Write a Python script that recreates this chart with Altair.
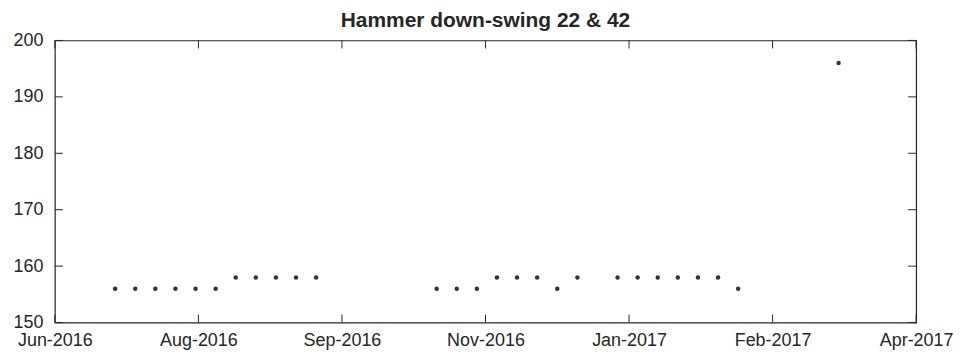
import altair as alt
import pandas as pd

# ---- data ----
dates = [
    "2016-07-10", "2016-07-17", "2016-07-24", "2016-07-31", "2016-08-07", "2016-08-14",
    "2016-08-21", "2016-08-28", "2016-09-04", "2016-09-11", "2016-09-18",
    "2016-10-30", "2016-11-06", "2016-11-13",
    "2016-11-20", "2016-11-27", "2016-12-04",
    "2016-12-11", "2016-12-18",
    "2017-01-01", "2017-01-08", "2017-01-15", "2017-01-22", "2017-01-29", "2017-02-05",
    "2017-02-12",
    "2017-03-19",
]
values = [
    156, 156, 156, 156, 156, 156,
    158, 158, 158, 158, 158,
    156, 156, 156,
    158, 158, 158,
    156, 158,
    158, 158, 158, 158, 158, 158,
    156,
    196,
]
# x ticks (MATLAB datenum multiples of 50 days)
x_ticks = ["2016-06-19", "2016-08-08", "2016-09-27", "2016-11-16",
           "2017-01-05", "2017-02-24", "2017-04-15"]
y_ticks = [150, 160, 170, 180, 190, 200]
title_text = "Hammer down-swing 22 & 42"

FONT = "Liberation Sans"
INK = "#262626"
W, H = 864, 283
TL = 8


def dt(s):
    y, m, d = (int(p) for p in s.split("-"))
    return alt.DateTime(year=y, month=m, date=d, utc=True)


points = pd.DataFrame({"date": dates, "value": values})
xt = pd.DataFrame({"date": x_ticks})
yt = pd.DataFrame({"value": y_ticks})

x_scale = alt.Scale(type="utc", domain=[dt(x_ticks[0]), dt(x_ticks[-1])])
y_scale = alt.Scale(domain=[150, 200], nice=False, zero=False)

x_axis = alt.Axis(
    title=None, values=[dt(s) for s in x_ticks],
    labelExpr="utcFormat(datum.value, '%b-%Y')",
    domain=False, ticks=False, tickSize=0, grid=False,
    labelFont=FONT, labelFontSize=18, labelColor=INK, labelBaseline="alphabetic",
    labelPadding=23, labelOverlap=False, labelFlush=False,
)
y_axis = alt.Axis(
    title=None, values=y_ticks, domain=False, ticks=False, tickSize=0, grid=False,
    labelFont=FONT, labelFontSize=18, labelColor=INK, labelBaseline="middle",
    labelAlign="right", labelPadding=12, labelOverlap=False, labelFlush=False,
)

X = alt.X("date:T", scale=x_scale, axis=x_axis)
Y = alt.Y("value:Q", scale=y_scale, axis=y_axis)

pts = alt.Chart(points).mark_circle(size=20, color="#333333", opacity=1).encode(x=X, y=Y)

tick_style = dict(color=INK, strokeWidth=1)
xt_top = alt.Chart(xt).mark_rule(**tick_style).encode(x=X, y=alt.value(0), y2=alt.value(TL))
xt_bot = alt.Chart(xt).mark_rule(**tick_style).encode(x=X, y=alt.value(H), y2=alt.value(H - TL))
yt_left = alt.Chart(yt).mark_rule(**tick_style).encode(y=Y, x=alt.value(0), x2=alt.value(TL))
yt_right = alt.Chart(yt).mark_rule(**tick_style).encode(y=Y, x=alt.value(W), x2=alt.value(W - TL))

chart = alt.layer(pts, xt_top, xt_bot, yt_left, yt_right).properties(
    width=W, height=H,
    background="white",
    title=alt.TitleParams(title_text, font=FONT, fontSize=21, fontWeight="bold",
                          color=INK, anchor="middle", offset=6, dy=6),
    autosize=alt.AutoSizeParams(type="none"),
    padding={"left": 47, "top": 32, "right": 40, "bottom": 30},
).configure_view(stroke=INK, strokeWidth=1.2)

chart.save("out.html", embed_options={"renderer": "svg", "actions": False})
